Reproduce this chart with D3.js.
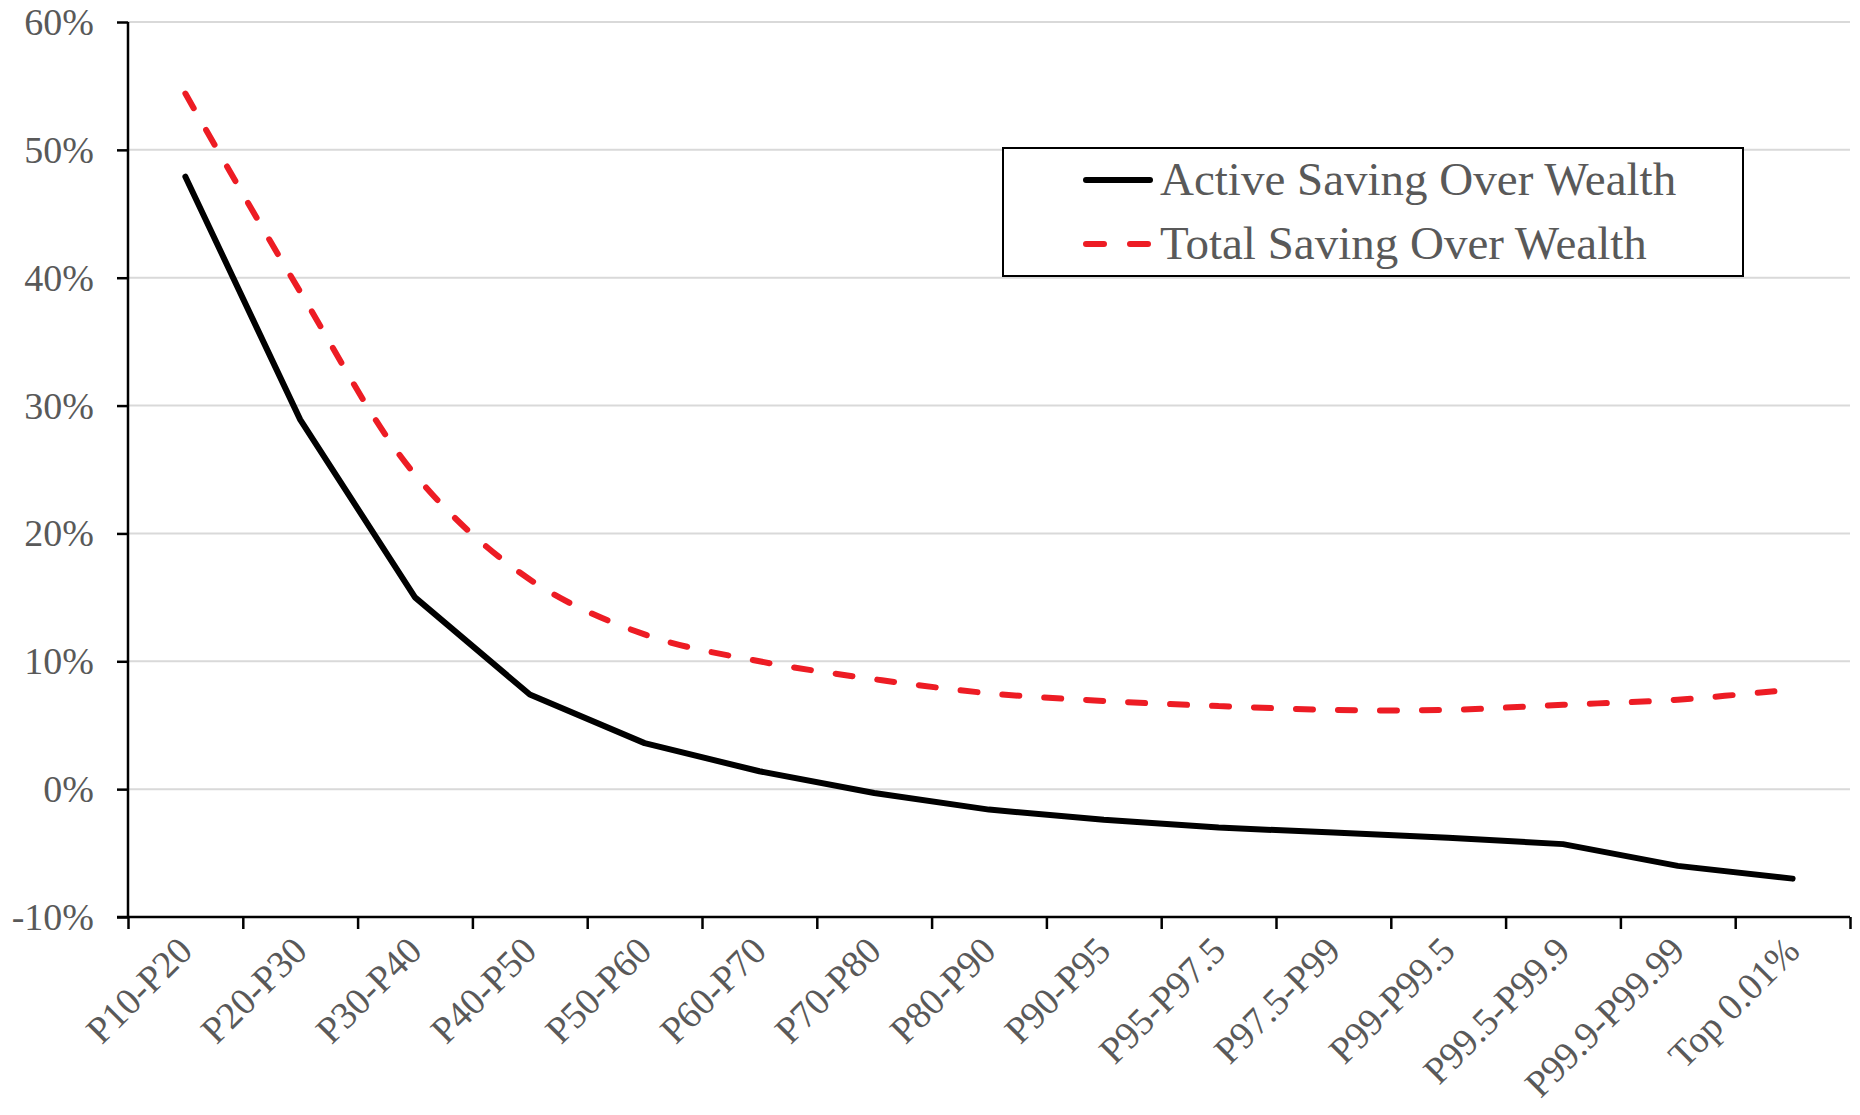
<!DOCTYPE html>
<html lang="en">
<head>
    <meta charset="UTF-8">
    <title>Saving Over Wealth</title>
    <script src="https://d3js.org/d3.v7.min.js"></script>
    <style>
        body {
            margin: 0;
            background: #fff;
        }
        svg text {
            font-family: "Times New Roman", "Liberation Serif", serif;
            fill: #595959;
        }
    </style>
</head>
<body>
    <svg id="chart"></svg>

    <script>
        // Wealth groups along the x axis
        const categories = ["P10-P20", "P20-P30", "P30-P40", "P40-P50", "P50-P60", "P60-P70",
            "P70-P80", "P80-P90", "P90-P95", "P95-P97.5", "P97.5-P99", "P99-P99.5",
            "P99.5-P99.9", "P99.9-P99.99", "Top 0.01%"];

        // Values in percent
        const activeSaving = [47.9, 28.9, 15.0, 7.4, 3.6, 1.4, -0.3, -1.6, -2.4, -3.0, -3.4, -3.8, -4.3, -6.0, -7.0];
        const totalSaving = [54.4, 38.9, 24.6, 16.4, 12.1, 10.0, 8.6, 7.5, 6.9, 6.5, 6.2, 6.2, 6.6, 7.0, 7.8];

        const yTicks = [-10, 0, 10, 20, 30, 40, 50, 60];
        const seriesNames = ["Active Saving Over Wealth", "Total Saving Over Wealth"];

        const width = 1860, height = 1115;
        const margin = { top: 22, right: 10, bottom: 198, left: 128 };

        const svg = d3.select("#chart")
            .attr("width", width)
            .attr("height", height);

        const x = d3.scaleBand()
            .domain(categories)
            .range([margin.left, width - margin.right]);

        // edges of the bands, for the tick marks
        const xEdge = d3.scaleLinear()
            .domain([0, categories.length])
            .range([margin.left, width - margin.right]);

        const y = d3.scaleLinear()
            .domain([-10, 60])
            .range([height - margin.bottom, margin.top]);

        // Gridlines
        svg.append("g")
            .selectAll("line")
            .data(yTicks.filter(d => d !== -10))
            .enter().append("line")
            .attr("x1", margin.left)
            .attr("x2", width - margin.right)
            .attr("y1", d => y(d))
            .attr("y2", d => y(d))
            .attr("stroke", "#d9d9d9")
            .attr("stroke-width", 2);

        // Y axis
        const yAxis = svg.append("g")
            .attr("transform", `translate(${margin.left},0)`)
            .call(d3.axisLeft(y).tickValues(yTicks).tickSize(11).tickPadding(23).tickFormat(d => d + "%"));
        yAxis.select(".domain").attr("stroke", "#000").attr("stroke-width", 2.5).attr("d", `M0,${y(60)}V${y(-10)}`);
        yAxis.selectAll(".tick line").attr("stroke", "#000").attr("stroke-width", 2.5);
        yAxis.selectAll(".tick text")
            .attr("font-size", "38px")
            .attr("dy", "0.33em");

        // X axis: tick marks at band edges
        const xAxis = svg.append("g")
            .attr("transform", `translate(0,${y(-10)})`)
            .call(d3.axisBottom(xEdge).tickValues(d3.range(categories.length + 1)).tickSize(12).tickFormat(""));
        xAxis.select(".domain").attr("stroke", "#000").attr("stroke-width", 2.5)
            .attr("d", `M${margin.left - 11},0H${width - margin.right}`);
        xAxis.selectAll(".tick line").attr("stroke", "#000").attr("stroke-width", 2.5);

        // X labels, rotated
        svg.append("g")
            .selectAll("text")
            .data(categories)
            .enter().append("text")
            .attr("transform", d => `translate(${x(d) + x.bandwidth() / 2 + 9},${y(-10) + 36}) rotate(-45)`)
            .attr("text-anchor", "end")
            .attr("font-size", "38px")
            .text(d => d);

        // Lines
        const lineActive = d3.line()
            .x((d, i) => x(categories[i]) + x.bandwidth() / 2)
            .y(d => y(d));

        const lineTotal = d3.line()
            .x((d, i) => x(categories[i]) + x.bandwidth() / 2)
            .y(d => y(d))
            .curve(d3.curveCatmullRom.alpha(0.5));

        svg.append("path")
            .datum(totalSaving)
            .attr("fill", "none")
            .attr("stroke", "#ed1c24")
            .attr("stroke-width", 6)
            .attr("stroke-linecap", "round")
            .attr("stroke-dasharray", "17,25")
            .attr("d", lineTotal);

        svg.append("path")
            .datum(activeSaving)
            .attr("fill", "none")
            .attr("stroke", "#000")
            .attr("stroke-width", 6)
            .attr("stroke-linecap", "round")
            .attr("stroke-linejoin", "round")
            .attr("d", lineActive);

        // Legend
        const legend = svg.append("g");
        legend.append("rect")
            .attr("x", 1003)
            .attr("y", 148)
            .attr("width", 740)
            .attr("height", 128)
            .attr("fill", "#fff")
            .attr("stroke", "#000")
            .attr("stroke-width", 2);

        const legendRows = [
            { name: seriesNames[0], color: "#000", dash: null, y: 180 },
            { name: seriesNames[1], color: "#ed1c24", dash: "18,26", y: 244 }
        ];

        legendRows.forEach(r => {
            legend.append("line")
                .attr("x1", 1086)
                .attr("x2", 1150)
                .attr("y1", r.y)
                .attr("y2", r.y)
                .attr("stroke", r.color)
                .attr("stroke-width", 6)
                .attr("stroke-linecap", "round")
                .attr("stroke-dasharray", r.dash);
            legend.append("text")
                .attr("x", 1160)
                .attr("y", r.y + 15)
                .attr("font-size", "47px")
                .text(r.name);
        });
    </script>
</body>
</html>
